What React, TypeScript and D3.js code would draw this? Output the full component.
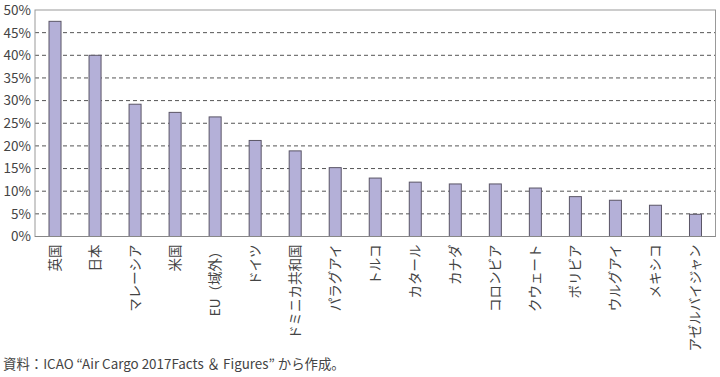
import React from "react";
import * as d3 from "d3";

const categories = ["英国", "日本", "マレーシア", "米国", "EU（域外）", "ドイツ", "ドミニカ共和国", "パラグアイ", "トルコ", "カタール", "カナダ", "コロンビア", "クウェート", "ボリビア", "ウルグアイ", "メキシコ", "アゼルバイジャン"];
const values = [47.5, 40.0, 29.2, 27.4, 26.4, 21.2, 18.9, 15.2, 12.9, 12.0, 11.6, 11.6, 10.7, 8.8, 8.0, 6.9, 4.9];
const yTicks = [0, 5, 10, 15, 20, 25, 30, 35, 40, 45, 50];
const source = "資料：ICAO “Air Cargo 2017Facts ＆ Figures” から作成。";

const W = 720, H = 377;
const m = { left: 35, right: 4.5, top: 10, bottom: 140.5 };
const FONT = "'Noto Sans CJK JP', 'Noto Sans', sans-serif";

export default function App() {
  const x = d3.scaleBand<string>().domain(categories).range([m.left, W - m.right]).paddingInner(0.7).paddingOuter(0.35);
  const y = d3.scaleLinear().domain([0, 50]).range([H - m.bottom, m.top]);
  const plotRight = W - m.right;
  return (
    <svg width={W} height={H} style={{ position: "absolute", left: 0, top: 0, background: "#fff" }} fontFamily={FONT}>
      {yTicks.filter(t => t > 0 && t < 50).map(t => (
        <line key={t} x1={m.left} x2={plotRight} y1={y(t)} y2={y(t)} stroke="#555" strokeWidth={1} strokeDasharray="4,3" />
      ))}
      <rect x={m.left} y={y(50)} width={plotRight - m.left} height={y(0) - y(50)} fill="none" stroke="#999" strokeWidth={1} />
      {categories.map((c, i) => (
        <rect key={c} x={x(c)!} y={y(values[i])} width={x.bandwidth()} height={y(0) - y(values[i])} fill="#b4b0d8" stroke="#5a5566" strokeWidth={1} />
      ))}
      <line x1={m.left} x2={plotRight} y1={y(0)} y2={y(0)} stroke="#888" strokeWidth={1.2} />
      {yTicks.map(t => (
        <text key={t} x={31} y={y(t)} dy="0.36em" textAnchor="end" fontSize={13.5} fill="#444">{t}%</text>
      ))}
      {categories.map(c => (
        <text key={c} transform={`translate(${x(c)! + x.bandwidth() / 2},${y(0) + 8}) rotate(-90)`} textAnchor="end" dy="0.36em" fontSize={13.5} fill="#444">{c}</text>
      ))}
      <text x={3} y={369} fontSize={13.4} fill="#444">{source}</text>
    </svg>
  );
}
